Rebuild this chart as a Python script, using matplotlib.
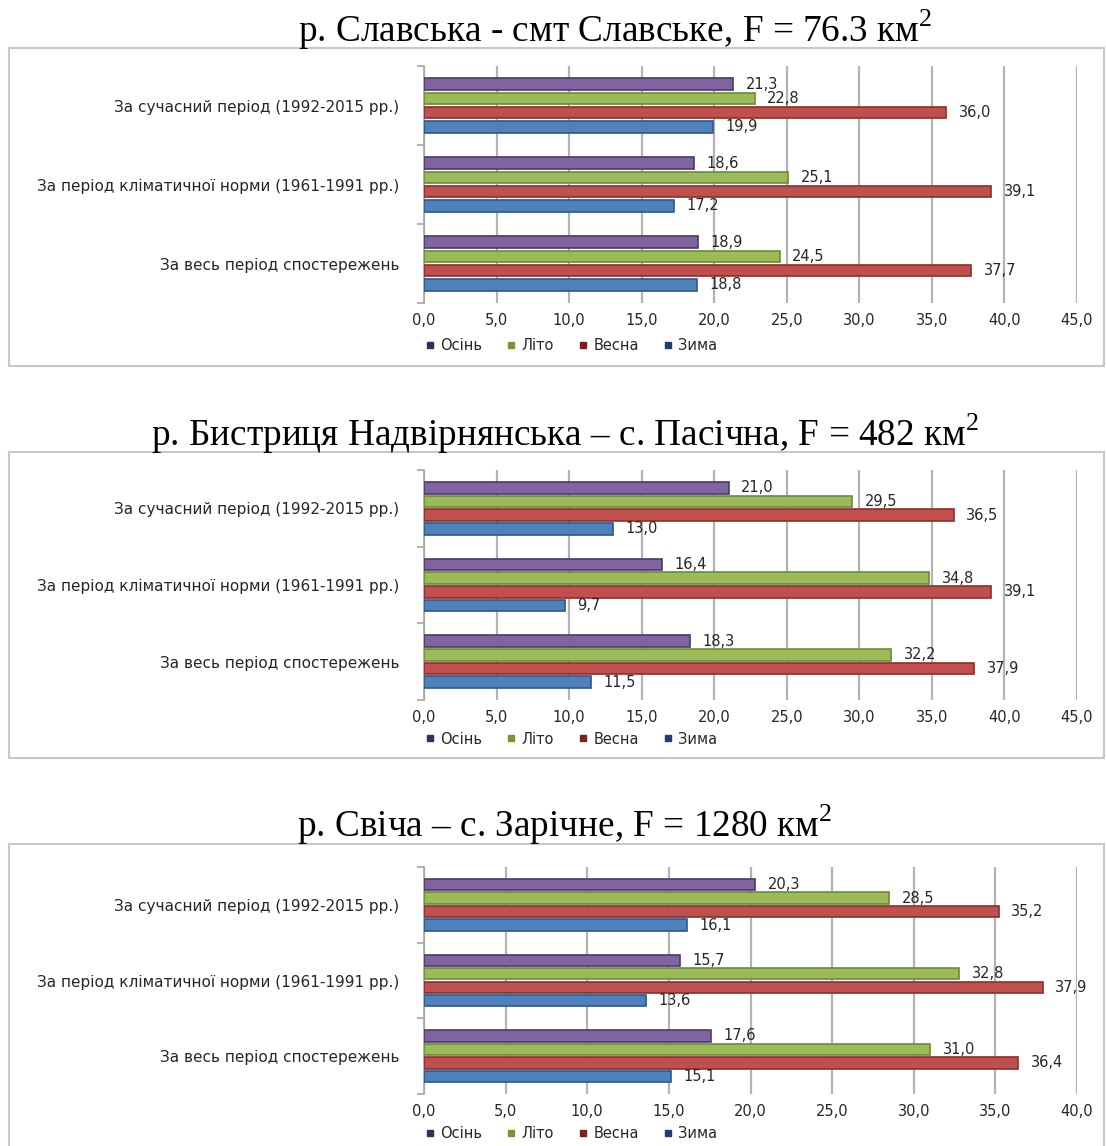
import matplotlib.pyplot as plt
from matplotlib.lines import Line2D
from matplotlib.patches import Rectangle

plt.rcParams['font.family'] = ['DejaVu Sans']
plt.rcParams['mathtext.fontset'] = 'custom'
plt.rcParams['mathtext.rm'] = 'Liberation Serif'

categories = ["За сучасний період (1992-2015 рр.)",
              "За період кліматичної норми (1961-1991 рр.)",
              "За весь період спостережень"]
seasons = ["Осінь", "Літо", "Весна", "Зима"]

titles = ["р. Славська - смт Славське, F = 76.3 км$^{2}$",
          "р. Бистриця Надвірнянська – с. Пасічна, F = 482 км$^{2}$",
          "р. Свіча – с. Зарічне, F = 1280 км$^{2}$"]

# values per season, order of categories as above
slavska = {"Осінь": [21.3, 18.6, 18.9], "Літо": [22.8, 25.1, 24.5],
           "Весна": [36.0, 39.1, 37.7], "Зима": [19.9, 17.2, 18.8]}
bystrytsia = {"Осінь": [21.0, 16.4, 18.3], "Літо": [29.5, 34.8, 32.2],
              "Весна": [36.5, 39.1, 37.9], "Зима": [13.0, 9.7, 11.5]}
svicha = {"Осінь": [20.3, 15.7, 17.6], "Літо": [28.5, 32.8, 31.0],
          "Весна": [35.2, 37.9, 36.4], "Зима": [16.1, 13.6, 15.1]}
x_max = [45, 45, 40]

fill = {"Осінь": "#8064A2", "Літо": "#9BBB59", "Весна": "#C0504D", "Зима": "#4F81BD"}
edge = {"Осінь": "#4b3a66", "Літо": "#6e8a3a", "Весна": "#8c2f2d", "Зима": "#2f5788"}
mark = {"Осінь": "#3b2a5c", "Літо": "#77933c", "Весна": "#7b1f1f", "Зима": "#1f3e6e"}

W, H = 1106, 1146
fig = plt.figure(figsize=(W / 100, H / 100), dpi=100)


def fy(py):
    return 1 - py / H


# pixel layout: title y, title centre x, box top/bottom, axes top/bottom, legend y
layout = [
    dict(ty=30, tx=615, b0=48, b1=366, a0=66, a1=303, ly=346),
    dict(ty=434, tx=565, b0=452, b1=758, a0=470, a1=700, ly=739),
    dict(ty=825, tx=565, b0=844, b1=1160, a0=867, a1=1094, ly=1134),
]

panels = [slavska, bystrytsia, svicha]
step = 0.178
bh = 0.15
txt = "#262626"
fs = 10.5

for data, lay, title, xm in zip(panels, layout, titles, x_max):
    fig.text(lay["tx"] / W, fy(lay["ty"]), title, ha="center", va="center",
             fontsize=26.8, family="Liberation Serif", color="black")
    fig.patches.append(Rectangle((9 / W, fy(lay["b1"])), (1104 - 9) / W,
                                 (lay["b1"] - lay["b0"]) / H, transform=fig.transFigure,
                                 fill=False, edgecolor="#c8c8c8", linewidth=1.5))
    ax = fig.add_axes([424 / W, fy(lay["a1"]), (1077 - 424) / W, (lay["a1"] - lay["a0"]) / H])
    for j, s in enumerate(seasons):
        ys = [i + (j - 1.5) * step for i in range(len(categories))]
        ax.barh(ys, data[s], height=bh, color=fill[s], edgecolor=edge[s], linewidth=1.2, zorder=3)
        for y, v in zip(ys, data[s]):
            ax.annotate(f"{v:.1f}".replace(".", ","), (v, y), xytext=(9, 0),
                        textcoords="offset points", va="center", ha="left",
                        fontsize=fs, color=txt)
    ax.set_xlim(0, xm)
    ax.set_ylim(len(categories) - 0.5, -0.5)
    ax.set_xticks(range(0, xm + 1, 5))
    ax.set_xticklabels([f"{t:.1f}".replace(".", ",") for t in range(0, xm + 1, 5)],
                       fontsize=fs, color=txt)
    ax.set_yticks(range(len(categories)))
    ax.set_yticklabels(categories, fontsize=11, color=txt)
    ax.set_yticks([-0.5, 0.5, 1.5, 2.5], minor=True)
    ax.tick_params(axis="y", which="major", length=0, pad=18)
    ax.tick_params(axis="y", which="minor", length=5, color="#a6a6a6", width=1.2)
    ax.tick_params(axis="x", length=0, pad=7)
    ax.grid(axis="x", color="#b3b3b3", linewidth=1.6, zorder=0)
    for sp in ["top", "right", "bottom"]:
        ax.spines[sp].set_visible(False)
    ax.spines["left"].set_color("#a6a6a6")
    ax.spines["left"].set_linewidth(1.2)

    handles = [Line2D([], [], marker="s", linestyle="none", markersize=4,
                      color=mark[s], label=s) for s in seasons]
    fig.legend(handles=handles, loc="center", bbox_to_anchor=(570 / W, fy(lay["ly"])),
               ncol=4, frameon=False, fontsize=fs, handletextpad=0.2,
               handlelength=1.0, columnspacing=1.5, labelcolor=txt)

fig.savefig("out.png", dpi=100)
